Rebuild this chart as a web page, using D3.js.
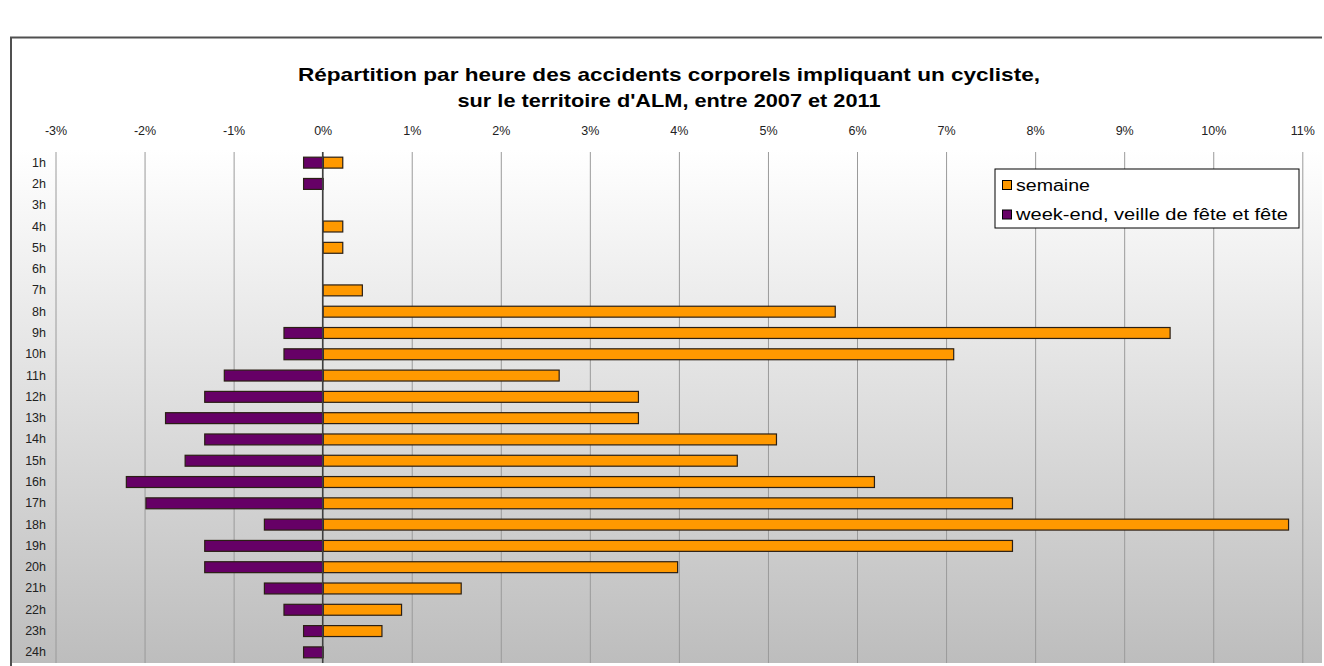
<!DOCTYPE html>
<html>
<head>
<meta charset="utf-8">
<script src="https://cdn.jsdelivr.net/npm/d3@7"></script>
<style>
  html, body { margin: 0; padding: 0; background: #ffffff; }
  svg { display: block; }
</style>
</head>
<body>
<svg id="chart" width="1324" height="666"></svg>
<script>
// ---- data ----
const hours = ["1h","2h","3h","4h","5h","6h","7h","8h","9h","10h","11h","12h",
               "13h","14h","15h","16h","17h","18h","19h","20h","21h","22h","23h","24h"];
// share of accidents (%) on weekdays
const semaine = [0.22, 0, 0, 0.22, 0.22, 0, 0.44, 5.75, 9.51, 7.08, 2.65, 3.54,
                 3.54, 5.09, 4.65, 6.19, 7.74, 10.84, 7.74, 3.98, 1.55, 0.88, 0.66, 0];
// share of accidents (%) on week-ends / holidays (drawn to the left)
const weekend = [-0.22, -0.22, 0, 0, 0, 0, 0, 0, -0.44, -0.44, -1.11, -1.33,
                 -1.77, -1.33, -1.55, -2.21, -1.99, -0.66, -1.33, -1.33, -0.66, -0.44, -0.22, -0.22];
const tickValues = [-3, -2, -1, 0, 1, 2, 3, 4, 5, 6, 7, 8, 9, 10, 11];
const tickLabels = ["-3%","-2%","-1%","0%","1%","2%","3%","4%","5%","6%","7%","8%","9%","10%","11%"];
const seriesNames = ["semaine", "week-end, veille de fête et fête"];
const seriesColors = ["#FF9900", "#660066"];
const titleLines = ["Répartition par heure des accidents corporels impliquant un cycliste,",
                    "sur le territoire d'ALM, entre 2007 et 2011"];

// ---- layout ----
const svg = d3.select("#chart");
const plot = { left: 55.5, right: 1302.3, top: 152, bottom: 663 };
const font = "'Liberation Sans', Arial, Helvetica, sans-serif";

const defs = svg.append("defs");
const grad = defs.append("linearGradient").attr("id", "bg")
  .attr("x1", 0).attr("y1", 0).attr("x2", 0).attr("y2", 1);
grad.append("stop").attr("offset", "0%").attr("stop-color", "#ffffff");
grad.append("stop").attr("offset", "18%").attr("stop-color", "#ffffff");
grad.append("stop").attr("offset", "100%").attr("stop-color", "#bdbdbd");

// chart area
svg.append("rect").attr("x", 10).attr("y", 37).attr("width", 1312).attr("height", 626)
  .attr("fill", "url(#bg)");
svg.append("path").attr("d", "M11,666 L11,37.5 L1322,37.5")
  .attr("fill", "none").attr("stroke", "#505050").attr("stroke-width", 2);

// title
const titleWidths = [742, 423];
svg.append("g").selectAll("text").data(titleLines).join("text")
  .attr("x", 669).attr("y", (d, i) => 81 + i * 26)
  .attr("text-anchor", "middle")
  .attr("font-family", font).attr("font-weight", "bold").attr("font-size", 19)
  .attr("fill", "#000")
  .attr("textLength", (d, i) => titleWidths[i]).attr("lengthAdjust", "spacingAndGlyphs")
  .text(d => d);

// scales
const x = d3.scaleLinear().domain([-3, 11]).range([plot.left, plot.right]);
const y = d3.scaleBand().domain(hours).range([plot.top, plot.bottom])
  .paddingInner(0.44).paddingOuter(0.22);

// gridlines
const grid = svg.append("g").attr("transform", `translate(0,${plot.top})`)
  .call(d3.axisTop(x).tickValues(tickValues).tickSize(-(plot.bottom - plot.top)).tickFormat(""));
grid.select(".domain").remove();
grid.selectAll("line").attr("stroke", "#9a9a9a").attr("stroke-width", 1);

// top tick labels
const xAxis = svg.append("g").attr("transform", "translate(0,134.5)")
  .call(d3.axisTop(x).tickValues(tickValues).tickSize(0).tickPadding(0)
    .tickFormat((d, i) => tickLabels[i]));
xAxis.select(".domain").remove();
xAxis.selectAll("text").attr("font-family", font).attr("font-size", 12.5).attr("fill", "#222");

// category labels
const yAxis = svg.append("g").attr("transform", "translate(46,0)")
  .call(d3.axisLeft(y).tickSize(0).tickPadding(0));
yAxis.select(".domain").remove();
yAxis.selectAll("text").attr("font-family", font).attr("font-size", 12.5).attr("fill", "#222");

// bars
const barG = svg.append("g");
const series = [semaine, weekend];
series.forEach((vals, si) => {
  barG.append("g").selectAll("rect").data(vals.map((v, i) => ({ h: hours[i], v })).filter(d => d.v !== 0))
    .join("rect")
    .attr("x", d => x(Math.min(0, d.v)) + 0.5)
    .attr("y", d => y(d.h) + 0.5)
    .attr("width", d => Math.abs(x(d.v) - x(0)))
    .attr("height", y.bandwidth() - 1)
    .attr("fill", seriesColors[si])
    .attr("stroke", "#2a1f14").attr("stroke-width", 1.2);
});

// zero line
svg.append("line").attr("x1", x(0)).attr("x2", x(0))
  .attr("y1", plot.top).attr("y2", plot.bottom)
  .attr("stroke", "#404040").attr("stroke-width", 1.5);

// legend
const lg = svg.append("g");
lg.append("rect").attr("x", 995).attr("y", 169).attr("width", 304).attr("height", 59)
  .attr("fill", "#fff").attr("stroke", "#000").attr("stroke-width", 1);
const legendWidths = [74, 272];
seriesNames.forEach((name, i) => {
  const cy = 185 + i * 29.5;
  lg.append("rect").attr("x", 1002.5).attr("y", cy - 4.5).attr("width", 9).attr("height", 9)
    .attr("fill", seriesColors[i]).attr("stroke", "#000").attr("stroke-width", 1);
  lg.append("text").attr("x", 1016).attr("y", cy + 5.5)
    .attr("font-family", font).attr("font-size", 16).attr("fill", "#000")
    .attr("textLength", legendWidths[i]).attr("lengthAdjust", "spacingAndGlyphs")
    .text(name);
});
</script>
</body>
</html>
